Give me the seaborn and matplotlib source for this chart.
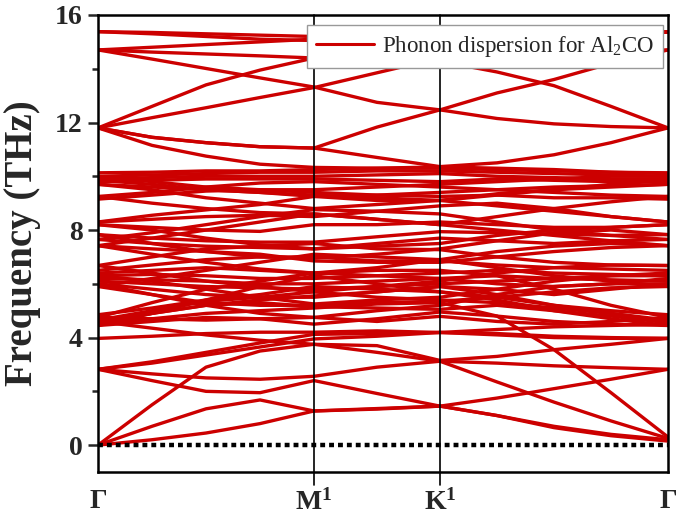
import numpy as np
import pandas as pd
import matplotlib
matplotlib.use("Agg")
import matplotlib.pyplot as plt
import seaborn as sns
from matplotlib.lines import Line2D
from matplotlib.ticker import MultipleLocator

# ---------------- data ----------------
# k-path nodes (Γ ... M ... K ... Γ)
k_nodes = [0.0, 0.25, 0.5, 0.75, 1.0, 1.2917, 1.5833, 1.8472, 2.1111, 2.375, 2.6389]
sym_pos = [0.0, 1.0, 1.5833, 2.6389]
sym_labels = ["Γ", r"M$^{\mathbf{1}}$", r"K$^{\mathbf{1}}$", "Γ"]

acoustic_bands = [
    [0.0, 0.2, 0.45, 0.8, 1.27, 1.36, 1.45, 1.1, 0.65, 0.35, 0.15],
    [0.0, 0.7, 1.35, 1.68, 1.27, 1.34, 1.45, 1.75, 2.1, 2.45, 2.82],
    [0.0, 1.5, 2.9, 3.5, 3.75, 3.45, 3.12, 2.35, 1.6, 0.9, 0.25],
]
low_optical_bands = [
    [2.82, 3.1, 3.45, 3.8, 4.12, 4.15, 4.19, 4.1, 4.0, 3.97, 3.97],
    [4.6, 4.35, 4.1, 3.9, 3.75, 3.7, 3.15, 3.3, 3.55, 3.75, 3.97],
    [2.82, 2.4, 2.0, 1.95, 2.4, 1.92, 1.45, 1.1, 0.7, 0.4, 0.2],
    [2.82, 2.65, 2.5, 2.45, 2.56, 2.9, 3.12, 3.05, 2.95, 2.88, 2.82],
    [3.97, 4.05, 4.15, 4.2, 4.2, 4.25, 4.19, 4.15, 4.05, 4.0, 3.97],
    [4.5, 4.7, 4.9, 5.0, 5.1, 5.25, 5.3, 4.8, 3.55, 1.95, 0.3],
    [2.82, 3.05, 3.35, 3.65, 3.95, 4.05, 4.19, 4.3, 4.4, 4.45, 4.5],
]
mid_bands_45 = [
    [4.45, 4.6, 4.75, 4.7, 4.5, 4.7, 4.95, 4.8, 4.6, 4.5, 4.45],
    [4.55, 4.9, 5.2, 5.3, 5.15, 5.1, 5.05, 5.2, 5.0, 4.8, 4.55],
    [4.65, 5.0, 5.35, 5.5, 5.7, 5.5, 5.4, 5.3, 5.1, 4.9, 4.65],
    [4.75, 4.7, 4.65, 4.7, 4.75, 4.6, 4.79, 4.6, 4.5, 4.6, 4.75],
    [4.85, 5.1, 5.4, 5.6, 5.9, 5.8, 5.7, 5.5, 5.2, 5.0, 4.85],
    [4.45, 4.9, 5.4, 5.9, 6.3, 6.0, 5.7, 5.4, 5.0, 4.7, 4.45],
    [4.75, 5.3, 5.8, 6.1, 6.4, 6.3, 6.2, 6.3, 5.8, 5.2, 4.75],
    [4.6, 4.9, 5.2, 5.4, 5.55, 5.7, 5.9, 5.6, 5.2, 4.9, 4.6],
]
mid_bands_60 = [
    [5.9, 5.6, 5.3, 5.2, 5.2, 5.3, 5.35, 5.5, 5.7, 5.85, 5.9],
    [6.0, 5.8, 5.6, 5.5, 5.5, 5.7, 5.9, 5.8, 5.6, 5.8, 6.0],
    [6.1, 6.0, 5.9, 5.85, 5.8, 5.9, 6.0, 6.1, 6.2, 6.15, 6.1],
    [6.2, 6.15, 6.1, 6.0, 6.0, 6.1, 6.2, 6.0, 5.9, 6.0, 6.2],
    [6.3, 6.35, 6.3, 6.2, 6.2, 6.3, 6.4, 6.5, 6.4, 6.35, 6.3],
    [6.4, 6.5, 6.6, 6.5, 6.4, 6.5, 6.5, 6.3, 6.2, 6.3, 6.4],
    [6.5, 6.7, 6.9, 7.0, 7.0, 6.85, 6.85, 6.7, 6.6, 6.55, 6.5],
    [6.68, 7.0, 7.3, 7.4, 7.5, 7.3, 7.27, 7.0, 6.8, 6.7, 6.68],
    [6.0, 5.6, 5.2, 4.9, 4.75, 5.0, 5.2, 5.6, 5.9, 6.0, 6.0],
    [6.3, 6.1, 5.8, 5.5, 5.25, 5.4, 5.5, 5.8, 6.1, 6.3, 6.3],
    [6.68, 6.4, 6.1, 5.9, 5.7, 5.9, 6.1, 6.4, 6.6, 6.7, 6.68],
    [5.9, 6.2, 6.5, 6.8, 7.1, 7.0, 6.9, 6.6, 6.3, 6.1, 5.9],
]
mid_bands_75 = [
    [7.42, 7.3, 7.2, 7.1, 6.85, 6.8, 6.8, 7.0, 7.2, 7.35, 7.42],
    [7.65, 7.5, 7.4, 7.35, 7.3, 7.5, 7.7, 7.6, 7.5, 7.6, 7.65],
    [7.83, 7.7, 7.6, 7.55, 7.55, 7.75, 7.94, 7.9, 7.85, 7.8, 7.83],
    [7.42, 7.7, 8.0, 8.3, 8.6, 8.4, 8.2, 8.0, 7.8, 7.6, 7.42],
    [7.65, 7.9, 8.2, 8.5, 8.76, 8.7, 8.6, 8.3, 8.0, 7.8, 7.65],
    [7.42, 7.1, 6.8, 6.55, 6.4, 6.6, 6.9, 7.2, 7.4, 7.5, 7.42],
    [7.83, 7.5, 7.2, 7.0, 6.95, 7.1, 7.3, 7.6, 7.9, 8.0, 7.83],
]
mid_bands_85 = [
    [8.3, 8.55, 8.75, 8.95, 9.25, 9.1, 9.1, 8.9, 8.7, 8.5, 8.3],
    [8.2, 8.1, 8.0, 7.95, 8.2, 8.2, 8.3, 8.2, 8.1, 8.1, 8.2],
    [9.25, 9.0, 8.8, 8.65, 8.6, 8.4, 8.2, 8.5, 8.8, 9.05, 9.25],
    [9.15, 9.3, 9.45, 9.5, 9.4, 9.3, 9.25, 9.3, 9.2, 9.2, 9.15],
    [8.2, 8.0, 7.7, 7.45, 7.3, 7.4, 7.5, 7.8, 8.0, 8.1, 8.2],
    [8.3, 8.4, 8.5, 8.55, 8.5, 8.7, 8.9, 9.0, 8.8, 8.5, 8.3],
]
mid_bands_100 = [
    [9.7, 9.6, 9.5, 9.4, 9.25, 9.3, 9.4, 9.5, 9.6, 9.65, 9.7],
    [9.8, 9.85, 9.9, 9.9, 9.9, 9.85, 9.8, 9.9, 9.85, 9.8, 9.8],
    [9.9, 9.95, 10.0, 10.0, 10.0, 10.05, 10.1, 10.0, 9.95, 9.9, 9.9],
    [10.0, 10.05, 10.1, 10.15, 10.15, 10.2, 10.2, 10.15, 10.1, 10.05, 10.0],
    [10.13, 10.15, 10.2, 10.2, 10.25, 10.3, 10.35, 10.3, 10.25, 10.15, 10.13],
    [9.25, 9.4, 9.6, 9.75, 9.8, 9.7, 9.6, 9.5, 9.4, 9.3, 9.25],
    [9.7, 9.5, 9.2, 9.0, 8.8, 8.95, 9.1, 9.35, 9.5, 9.6, 9.7],
    [10.0, 9.8, 9.6, 9.5, 9.5, 9.6, 9.7, 9.8, 9.9, 10.0, 10.0],
    [9.85, 9.7, 9.5, 9.4, 9.3, 9.2, 9.1, 9.3, 9.5, 9.7, 9.85],
]
high_bands = [
    [15.38, 15.35, 15.3, 15.25, 15.2, 15.15, 15.1, 15.15, 15.2, 15.3, 15.37],
    [15.38, 15.3, 15.2, 15.1, 15.05, 15.0, 15.0, 15.05, 15.15, 15.25, 15.37],
    [14.7, 14.8, 14.9, 15.0, 15.1, 15.2, 15.25, 15.3, 15.3, 15.35, 15.37],
    [14.7, 14.62, 14.55, 14.48, 14.4, 14.35, 14.28, 13.88, 13.37, 12.6, 11.8],
    [14.7, 14.36, 14.01, 13.66, 13.32, 12.75, 12.47, 12.15, 11.95, 11.85, 11.8],
    [11.8, 12.18, 12.55, 12.93, 13.3, 13.85, 14.4, 14.55, 14.62, 14.68, 14.7],
    [11.8, 12.6, 13.4, 13.95, 14.4, 14.7, 14.9, 15.0, 15.1, 15.2, 15.37],
    [11.8, 11.45, 11.25, 11.1, 11.05, 11.83, 12.47, 13.1, 13.6, 14.2, 14.7],
    [11.8, 11.45, 11.25, 11.1, 11.05, 10.7, 10.36, 10.5, 10.8, 11.25, 11.8],
    [11.8, 11.15, 10.75, 10.45, 10.33, 10.3, 10.3, 10.25, 10.2, 10.15, 10.1],
]

band_groups = [acoustic_bands, low_optical_bands, mid_bands_45, mid_bands_60,
               mid_bands_75, mid_bands_85, mid_bands_100, high_bands]

rows = []
bid = 0
for grp in band_groups:
    for band in grp:
        for kx, f in zip(k_nodes, band):
            rows.append({"k": kx, "freq": f, "band": bid})
        bid += 1
df = pd.DataFrame(rows)

# ---------------- style ----------------
sns.set_style("ticks")
plt.rcParams["font.family"] = ["Liberation Serif", "DejaVu Serif"]
plt.rcParams["mathtext.fontset"] = "custom"
plt.rcParams["mathtext.rm"] = "Liberation Serif"
plt.rcParams["mathtext.it"] = "Liberation Serif:italic"
plt.rcParams["mathtext.bf"] = "Liberation Serif:bold"

red = "#CC0000"
serif = ["Liberation Serif", "DejaVu Serif"]

fig = plt.figure(figsize=(6.77, 5.15), dpi=100)
ax = fig.add_axes([0.1448, 0.0835, 0.9867 - 0.1448, 0.9709 - 0.0835])

sns.lineplot(data=df, x="k", y="freq", units="band", estimator=None,
             color=red, lw=2.4, legend=False, ax=ax, sort=False)

ax.axhline(0, color="black", lw=3.2, ls=(0, (1.1, 0.9)), zorder=5)
for xp in sym_pos[1:3]:
    ax.axvline(xp, ymin=-0.028, ymax=1, color="black", lw=1.2, clip_on=False, zorder=4)

ax.set_xlim(sym_pos[0], sym_pos[-1])
ax.set_ylim(-1, 16)
ax.set_xticks(sym_pos)
ax.set_xticklabels(sym_labels, fontsize=20, fontweight="bold", family=serif)
ax.tick_params(axis="x", length=0, pad=12)
ax.yaxis.set_major_locator(MultipleLocator(4))
ax.yaxis.set_minor_locator(MultipleLocator(2))
ax.tick_params(axis="y", which="major", direction="out", length=7, width=1.8,
               labelsize=20, pad=4)
ax.tick_params(axis="y", which="minor", direction="out", length=4, width=1.8)
for lab in ax.get_yticklabels():
    lab.set_fontweight("bold")
    lab.set_family(serif)
ax.set_xlabel("")
ax.set_ylabel("Frequency (THz)", fontsize=28, fontweight="bold", family=serif, labelpad=10)
for sp in ax.spines.values():
    sp.set_linewidth(1.8)
    sp.set_color("black")

handle = Line2D([], [], color=red, lw=2.2)
leg = ax.legend([handle], ["Phonon dispersion for Al$_2$CO"], loc="upper right",
                bbox_to_anchor=(0.991, 0.978), borderaxespad=0,
                prop={"family": serif, "size": 16.5},
                handlelength=2.5, handletextpad=0.35, fancybox=False,
                framealpha=1, edgecolor="#999999", borderpad=0.4)
leg.set_zorder(10)
leg.get_frame().set_linewidth(1.0)

fig.savefig("out.png", dpi=100)
